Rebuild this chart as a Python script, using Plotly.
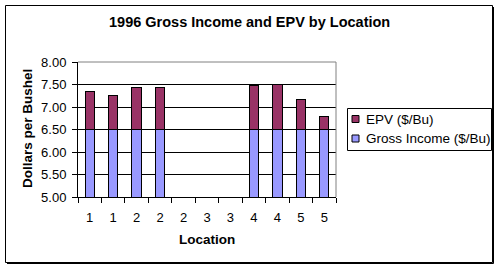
import plotly.graph_objects as go

locations = ["1", "1", "2", "2", "2", "3", "3", "4", "4", "5", "5"]
gross_income = [6.50, 6.50, 6.50, 6.50, None, None, None, 6.50, 6.50, 6.50, 6.50]
epv = [0.85, 0.75, 0.94, 0.94, None, None, None, 0.98, 1.01, 0.67, 0.29]
y_ticks = [5.0, 5.5, 6.0, 6.5, 7.0, 7.5, 8.0]
series_names = ["EPV ($/Bu)", "Gross Income ($/Bu)"]
series_colors = ["#993366", "#9999FF"]

W, H = 500, 269
L, R, T, B = 78, 336, 62, 197
pw, ph = R - L, B - T


def px(x):
    return (x - L) / pw


def py(y):
    return (B - y) / ph


xs = list(range(len(locations)))
FONT = "Liberation Sans, Arial, sans-serif"

fig = go.Figure()
fig.add_trace(go.Bar(x=xs, y=gross_income, name=series_names[1],
                     marker=dict(color=series_colors[1], line=dict(color="black", width=1)),
                     width=0.4))
fig.add_trace(go.Bar(x=xs, y=epv, name=series_names[0],
                     marker=dict(color=series_colors[0], line=dict(color="black", width=1)),
                     width=0.4))

shapes = [
    dict(type="line", xref="paper", yref="paper", x0=0, x1=1, y0=1, y1=1,
         line=dict(color="#808080", width=1)),
    dict(type="line", xref="paper", yref="paper", x0=1, x1=1, y0=0, y1=1,
         line=dict(color="#808080", width=1)),
    dict(type="rect", xref="paper", yref="paper", x0=px(5.5), x1=px(492.5),
         y0=py(262.5), y1=py(5.5), line=dict(color="black", width=1)),
    dict(type="line", xref="paper", yref="paper", x0=px(493.5), x1=px(493.5),
         y0=py(263.5), y1=py(7), line=dict(color="black", width=1)),
    dict(type="line", xref="paper", yref="paper", x0=px(7), x1=px(493.5),
         y0=py(263.5), y1=py(263.5), line=dict(color="black", width=1)),
    # legend box
    dict(type="rect", xref="paper", yref="paper", x0=px(347.5), x1=px(491.5),
         y0=py(150.5), y1=py(108.5), line=dict(color="black", width=1),
         fillcolor="white", layer="above"),
]
annotations = [
    dict(text="<b>1996 Gross Income and EPV by Location</b>", x=px(249), y=py(22),
         xref="paper", yref="paper", showarrow=False, font=dict(size=14.5),
         xanchor="center", yanchor="middle"),
    dict(text="<b>Location</b>", x=px(207), y=py(239), xref="paper", yref="paper",
         showarrow=False, font=dict(size=13.5), xanchor="center", yanchor="middle"),
    dict(text="<b>Dollars per Bushel</b>", x=px(27), y=py(129), xref="paper",
         yref="paper", showarrow=False, font=dict(size=13.5), textangle=-90,
         xanchor="center", yanchor="middle"),
]
for i, (name, color) in enumerate(zip(series_names, series_colors)):
    cy = 119 + 19.5 * i
    shapes.append(dict(type="rect", xref="paper", yref="paper",
                       x0=px(352), x1=px(359), y0=py(cy + 3.5), y1=py(cy - 3.5),
                       fillcolor=color, line=dict(color="black", width=1), layer="above"))
    annotations.append(dict(text=name, x=px(364), y=py(cy), xref="paper", yref="paper",
                            showarrow=False, font=dict(size=13.5), xanchor="left",
                            yanchor="middle"))

fig.update_layout(
    width=W, height=H,
    margin=dict(l=L, r=W - R, t=T, b=H - B, autoexpand=False),
    barmode="stack",
    paper_bgcolor="white", plot_bgcolor="white",
    font=dict(family=FONT, size=13, color="black"),
    showlegend=False,
    xaxis=dict(range=[-0.5, len(locations) - 0.5], tickvals=xs, ticktext=locations,
               ticks="", showgrid=False, showline=True, linecolor="black", linewidth=1,
               zeroline=False, ticklabelstandoff=8, tickfont=dict(size=13),
               minor=dict(tickvals=[i - 0.5 for i in range(len(locations) + 1)],
                          ticks="outside", ticklen=5, tickcolor="black", showgrid=False)),
    yaxis=dict(range=[5, 8], tickvals=y_ticks, ticktext=[f"{v:.2f}" for v in y_ticks],
               ticks="outside", ticklen=5, tickcolor="black", showgrid=True,
               gridcolor="black", gridwidth=1, showline=True, linecolor="black",
               linewidth=1, zeroline=False, ticklabelstandoff=3, tickfont=dict(size=13)),
    annotations=annotations,
    shapes=shapes,
)

fig.write_html("out.html")
